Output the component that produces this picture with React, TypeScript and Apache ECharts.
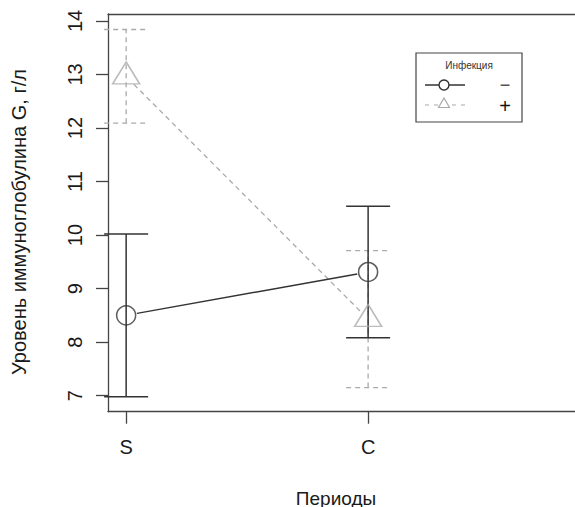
import React, { useEffect, useRef } from "react";
import * as echarts from "echarts";

const periods = ["S", "C"];
const periodPos = [1, 2];
const yTicks = [7, 8, 9, 10, 11, 12, 13, 14];

// Infection "−"
const meanMinus = [8.5, 9.31];
const lowMinus = [6.98, 8.08];
const highMinus = [10.02, 10.54];

// Infection "+"
const meanPlus = [12.96, 8.43];
const lowPlus = [12.09, 7.15];
const highPlus = [13.84, 9.71];

const FONT = "'Liberation Sans', Arial, Helvetica, sans-serif";
const DARK = "#333333";
const GRAY = "#aaaaaa";

function errorBarSeries(low: number[], high: number[], color: string, dash: number[] | null, width: number) {
  return {
    type: "custom",
    data: periodPos.map((x, i) => [x, low[i], high[i]]),
    encode: { x: 0, y: [1, 2] },
    silent: true,
    z: 2,
    renderItem: (params: any, api: any) => {
      const x = api.value(0);
      const pLo = api.coord([x, api.value(1)]);
      const pHi = api.coord([x, api.value(2)]);
      const hw = 22;
      const style: any = { stroke: color, lineWidth: width, fill: null };
      if (dash) style.lineDash = dash;
      return {
        type: "group",
        children: [
          { type: "line", shape: { x1: pLo[0], y1: pLo[1], x2: pHi[0], y2: pHi[1] }, style },
          { type: "line", shape: { x1: pLo[0] - hw, y1: pLo[1], x2: pLo[0] + hw, y2: pLo[1] }, style },
          { type: "line", shape: { x1: pHi[0] - hw, y1: pHi[1], x2: pHi[0] + hw, y2: pHi[1] }, style },
        ],
      };
    },
  };
}

function connectSeries(mean: number[], color: string, dash: number[] | null, width: number) {
  const segs: number[][] = [];
  for (let i = 0; i < periodPos.length - 1; i++) {
    segs.push([periodPos[i], mean[i], periodPos[i + 1], mean[i + 1]]);
  }
  return {
    type: "custom",
    data: segs,
    encode: { x: [0, 2], y: [1, 3] },
    silent: true,
    z: 3,
    renderItem: (params: any, api: any) => {
      const p1 = api.coord([api.value(0), api.value(1)]);
      const p2 = api.coord([api.value(2), api.value(3)]);
      const dx = p2[0] - p1[0];
      const dy = p2[1] - p1[1];
      const len = Math.sqrt(dx * dx + dy * dy);
      const gap = 11;
      const ux = dx / len;
      const uy = dy / len;
      const style: any = { stroke: color, lineWidth: width, fill: null };
      if (dash) style.lineDash = dash;
      return {
        type: "line",
        shape: {
          x1: p1[0] + ux * gap,
          y1: p1[1] + uy * gap,
          x2: p2[0] - ux * gap,
          y2: p2[1] - uy * gap,
        },
        style,
      };
    },
  };
}

export default function App() {
  const ref = useRef<HTMLDivElement>(null);

  useEffect(() => {
    if (!ref.current) return;
    const chart = echarts.init(ref.current, null, { renderer: "svg" });
    const axisLineStyle = { color: "#444444", width: 1.3 };
    const option: any = {
      animation: false,
      backgroundColor: "#ffffff",
      grid: { left: 108, top: 14, right: 0, bottom: 95.3, containLabel: false },
      xAxis: [
        {
          type: "value",
          min: 0.925,
          max: 2.855,
          position: "bottom",
          splitLine: { show: false },
          axisLine: { show: true, onZero: false, lineStyle: axisLineStyle },
          axisTick: { show: true, length: 12, customValues: periodPos, lineStyle: axisLineStyle },
          axisLabel: {
            customValues: periodPos,
            formatter: (v: number) => {
              const idx = periodPos.indexOf(Math.round(v));
              return idx >= 0 ? periods[idx] : "";
            },
            fontSize: 20,
            fontFamily: FONT,
            color: "#1a1a1a",
            margin: 25,
          },
        },
        {
          type: "value",
          min: 0.925,
          max: 2.855,
          position: "top",
          splitLine: { show: false },
          axisLine: { show: true, onZero: false, lineStyle: axisLineStyle },
          axisTick: { show: false },
          axisLabel: { show: false },
        },
      ],
      yAxis: {
        type: "value",
        min: 6.7,
        max: 14.13,
        splitLine: { show: false },
        axisLine: { show: true, onZero: false, lineStyle: axisLineStyle },
        axisTick: { show: true, length: 12, customValues: yTicks, lineStyle: axisLineStyle },
        axisLabel: {
          customValues: yTicks,
          rotate: 90,
          fontSize: 20,
          fontFamily: FONT,
          color: "#1a1a1a",
          margin: 23,
        },
      },
      graphic: [
        {
          type: "text",
          x: 19,
          y: 222,
          rotation: Math.PI / 2,
          style: {
            text: "Уровень иммуноглобулина G, г/л",
            fontSize: 20,
            fontFamily: FONT,
            fill: "#1a1a1a",
            align: "center",
            verticalAlign: "middle",
          },
        },
        {
          type: "text",
          x: 336,
          y: 498,
          style: {
            text: "Периоды",
            fontSize: 19,
            fontFamily: FONT,
            fill: "#1a1a1a",
            align: "center",
            verticalAlign: "middle",
          },
        },
        {
          type: "group",
          z: 100,
          children: [
            {
              type: "rect",
              shape: { x: 416, y: 53, width: 106, height: 69 },
              style: { fill: "#ffffff", stroke: "#444444", lineWidth: 1.2 },
            },
            {
              type: "text",
              x: 469,
              y: 65,
              style: {
                text: "Инфекция",
                fontSize: 10,
                fontFamily: FONT,
                fill: "#333333",
                align: "center",
                verticalAlign: "middle",
              },
            },
            {
              type: "line",
              shape: { x1: 425, y1: 85, x2: 465, y2: 85 },
              style: { stroke: DARK, lineWidth: 1.4 },
            },
            {
              type: "circle",
              shape: { cx: 444, cy: 85, r: 5 },
              style: { fill: "#ffffff", stroke: DARK, lineWidth: 1.4 },
            },
            {
              type: "text",
              x: 505,
              y: 85,
              style: {
                text: "−",
                fontSize: 18,
                fontFamily: FONT,
                fill: "#555555",
                align: "center",
                verticalAlign: "middle",
              },
            },
            {
              type: "line",
              shape: { x1: 425, y1: 105, x2: 465, y2: 105 },
              style: { stroke: GRAY, lineWidth: 1.2, lineDash: [4, 5] },
            },
            {
              type: "polygon",
              shape: { points: [[444, 98], [449.5, 107.5], [438.5, 107.5]] },
              style: { fill: "#ffffff", stroke: GRAY, lineWidth: 1.2 },
            },
            {
              type: "text",
              x: 505,
              y: 106,
              style: {
                text: "+",
                fontSize: 20,
                fontFamily: FONT,
                fill: "#111111",
                align: "center",
                verticalAlign: "middle",
              },
            },
          ],
        },
      ],
      series: [
        errorBarSeries(lowPlus, highPlus, GRAY, [5, 4], 1.3),
        errorBarSeries(lowMinus, highMinus, DARK, null, 1.5),
        connectSeries(meanPlus, GRAY, [5, 4], 1.3),
        connectSeries(meanMinus, DARK, null, 1.4),
        {
          type: "scatter",
          data: periodPos.map((x, i) => [x, meanPlus[i]]),
          symbol: "triangle",
          symbolSize: [27, 22],
          symbolOffset: [0, -3.7],
          itemStyle: { color: "rgba(0,0,0,0)", borderColor: GRAY, borderWidth: 1.5 },
          silent: true,
          z: 4,
        },
        {
          type: "scatter",
          data: periodPos.map((x, i) => [x, meanMinus[i]]),
          symbol: "circle",
          symbolSize: 19,
          itemStyle: { color: "rgba(0,0,0,0)", borderColor: DARK, borderWidth: 1.5 },
          silent: true,
          z: 4,
        },
      ],
    };
    chart.setOption(option);
    return () => chart.dispose();
  }, []);

  return (
    <div
      ref={ref}
      style={{ position: "fixed", left: 0, top: 0, width: 575, height: 507, background: "#fff" }}
    />
  );
}
